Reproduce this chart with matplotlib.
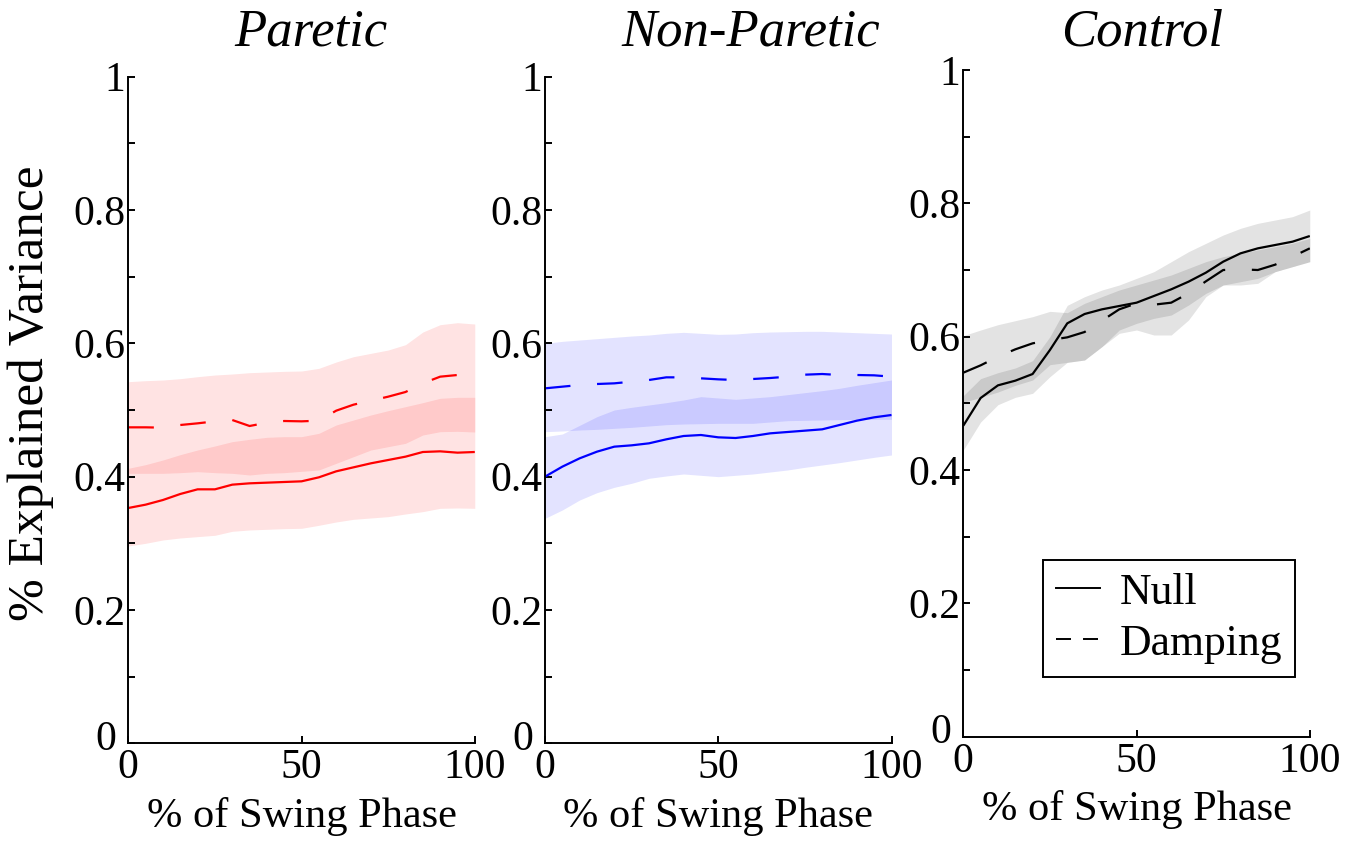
import numpy as np
import matplotlib
matplotlib.use('Agg')
import matplotlib.pyplot as plt
from matplotlib.lines import Line2D
from matplotlib.ticker import MultipleLocator, FuncFormatter

plt.rcParams['font.family'] = ['Liberation Serif', 'DejaVu Serif']

# % of swing phase, sampled every 5 %
swing = np.arange(0, 101, 5)

# Paretic limb
par_null = [.353, .358, .365, .374, .381, .381, .388, .390, .391, .392, .393,
            .399, .408, .414, .420, .425, .430, .437, .438, .436, .437]
par_null_lo = [.296, .300, .305, .308, .310, .312, .318, .320, .321, .322, .3225,
               .327, .332, .336, .338, .340, .344, .3475, .3525, .353, .3525]
par_null_hi = [.4125, .418, .425, .433, .440, .446, .4525, .456, .459, .460, .460,
               .465, .4775, .485, .4925, .499, .505, .511, .5175, .519, .519]
par_damp = [.474, .474, .4735, .4775, .480, .483, .485, .476, .481, .4835, .483,
            .484, .499, .508, .514, .520, .527, .540, .550, .5525, .554]
par_damp_lo = [.405, .405, .405, .406, .4075, .406, .405, .4025, .405, .406, .408,
               .410, .420, .430, .440, .445, .450, .4625, .4675, .468, .467]
par_damp_hi = [.5425, .544, .545, .547, .550, .5525, .554, .556, .557, .558, .5585,
               .5625, .572, .580, .585, .590, .598, .617, .628, .631, .629]

# Non-paretic limb
np_null = [.400, .415, .4275, .4375, .445, .447, .450, .456, .461, .4625, .459,
           .458, .461, .465, .467, .469, .471, .4775, .484, .489, .4925]
np_null_lo = [.3375, .350, .365, .376, .384, .390, .3975, .401, .404, .402, .400,
              .402, .404, .407, .410, .414, .4175, .421, .425, .429, .4325]
np_null_hi = [.460, .464, .477, .490, .500, .504, .5075, .511, .515, .520, .518,
              .516, .518, .520, .523, .526, .529, .5325, .537, .541, .545]
np_damp = [.5325, .535, .5375, .539, .540, .5425, .545, .549, .549, .5475, .546,
           .545, .5465, .548, .550, .553, .554, .5525, .5525, .552, .550]
np_damp_lo = [.4675, .4685, .470, .471, .4725, .474, .476, .478, .479, .4795, .480,
              .480, .480, .482, .484, .4845, .485, .4855, .486, .486, .486]
np_damp_hi = [.600, .603, .605, .607, .609, .611, .6125, .615, .6165, .615, .6135,
              .614, .616, .617, .6175, .618, .618, .617, .616, .615, .614]

# Control
ctl_null = [.4665, .508, .527, .534, .544, .580, .620, .634, .641, .646, .651,
            .661, .671, .6825, .696, .7125, .725, .7325, .7375, .7425, .751]
ctl_null_lo = [.430, .472, .498, .509, .515, .540, .5615, .565, .585, .610, .620,
               .6275, .6325, .6475, .665, .6775, .6825, .6875, .6975, .705, .7125]
ctl_null_hi = [.5115, .537, .546, .553, .564, .600, .647, .660, .670, .6775, .6875,
               .6975, .7125, .7275, .740, .7525, .7625, .770, .775, .780, .790]
ctl_damp = [.546, .557, .570, .581, .590, .595, .599, .607, .624, .641, .650,
            .648, .651, .665, .683, .700, .701, .700, .708, .720, .7325]
ctl_damp_lo = [.5015, .509, .517, .527, .535, .558, .5615, .565, .585, .605, .610,
               .6025, .6025, .625, .660, .6775, .6775, .680, .6975, .705, .7125]
ctl_damp_hi = [.6015, .610, .618, .624, .630, .638, .636, .650, .660, .670, .6775,
               .685, .6925, .7025, .7125, .720, .725, .730, .735, .740, .7475]

panels = [
    ('Paretic', 'red', par_null, par_null_lo, par_null_hi, par_damp, par_damp_lo, par_damp_hi),
    ('Non-Paretic', 'blue', np_null, np_null_lo, np_null_hi, np_damp, np_damp_lo, np_damp_hi),
    ('Control', 'black', ctl_null, ctl_null_lo, ctl_null_hi, ctl_damp, ctl_damp_lo, ctl_damp_hi),
]

W, H = 1355, 842
fig = plt.figure(figsize=(W / 100, H / 100), dpi=100)

# axes boxes in pixels: left, bottom spine y, top y
boxes = [(128.3, 743.3, 76.7), (545.0, 743.3, 76.7), (963.3, 736.7, 70.0)]
title_x = [311, 751, 1142]
axw = 346.5


def ytick_fmt(v, pos):
    k = int(round(v * 10))
    if k % 2 or k == 0:
        return ''
    if k == 10:
        return '1'
    return f'{v:.1f}'


for i, (name, col, nul, nlo, nhi, dmp, dlo, dhi) in enumerate(panels):
    left, bot, top = boxes[i]
    ax = fig.add_axes([left / W, 1 - bot / H, axw / W, (bot - top) / H])
    ax.fill_between(swing, nlo, nhi, color=col, alpha=0.11, lw=0)
    ax.fill_between(swing, dlo, dhi, color=col, alpha=0.11, lw=0)
    ax.plot(swing, nul, color=col, lw=1.6, solid_capstyle='butt')
    ax.plot(swing, dmp, color=col, lw=1.6, dashes=(11.5, 12))
    ax.set_xlim(0, 100)
    ax.set_ylim(0, 1)
    for s in ['top', 'right']:
        ax.spines[s].set_visible(False)
    for s in ['left', 'bottom']:
        ax.spines[s].set_linewidth(1.4)
    ax.xaxis.set_major_locator(MultipleLocator(50))
    ax.yaxis.set_major_locator(MultipleLocator(0.1))
    ax.yaxis.set_major_formatter(FuncFormatter(ytick_fmt))
    ax.tick_params(direction='in', length=5, width=1.4, labelsize=30)
    ax.tick_params(axis='y', pad=2)
    ax.tick_params(axis='x', pad=4)
    # the y "0" sits a little further left so it clears the x "0"
    ax.annotate('0', (0, 0), xycoords='axes fraction', xytext=(-12, 4),
                textcoords='offset pixels', ha='right', va='center', fontsize=30)
    ax.set_xlabel('% of Swing Phase', fontsize=30.5, labelpad=7)
    fig.text(title_x[i] / W, 1 - 46 / H, name, fontsize=38, style='italic',
             ha='center', va='baseline')
    if name == 'Control':
        handles = [Line2D([], [], color='k', lw=1.4),
                   Line2D([], [], color='k', lw=1.4, dashes=(7.7, 6.2))]
        leg = ax.legend(handles, ['Null', 'Damping'], loc='lower right',
                        bbox_to_anchor=(0.9587, 0.09), borderaxespad=0,
                        fontsize=31.5, handlelength=1.0, handletextpad=0.45,
                        labelspacing=0.25, borderpad=0.3, fancybox=False,
                        framealpha=1)
        leg.get_frame().set_edgecolor('black')
        leg.get_frame().set_linewidth(1.4)

fig.text(31 / W, 1 - 393 / H, '% Explained Variance', fontsize=37,
         rotation=90, ha='center', va='center')

fig.savefig('out.png', dpi=100)
